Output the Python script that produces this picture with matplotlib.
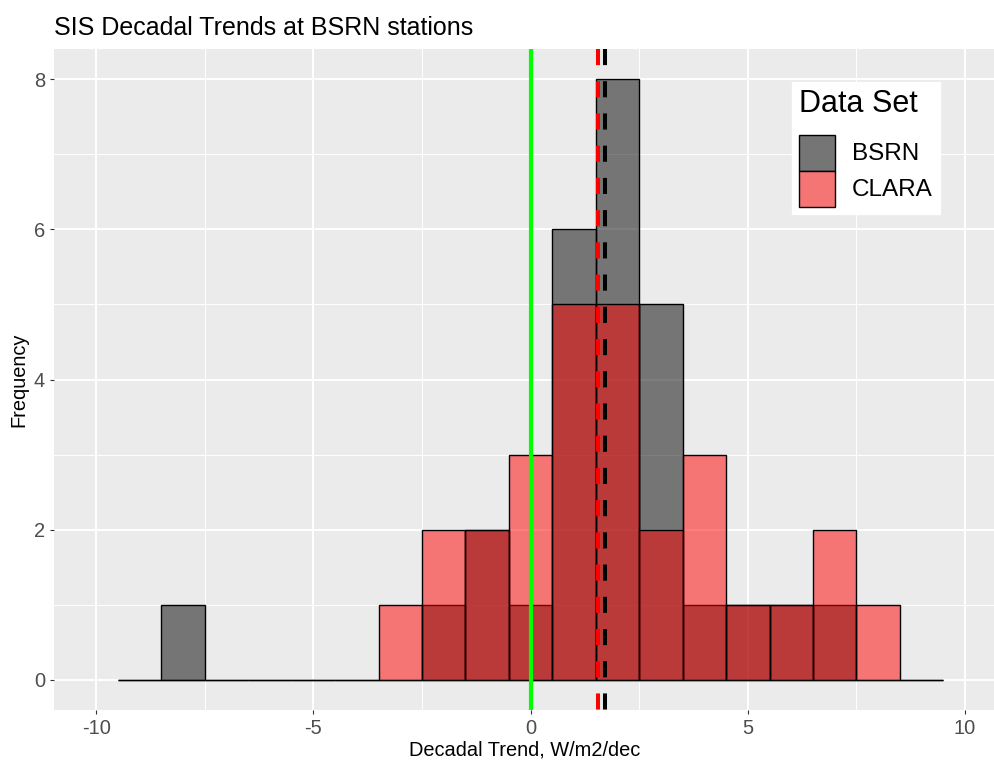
import numpy as np
import matplotlib.pyplot as plt
from matplotlib.patches import Patch

plt.rcParams['font.family'] = ['Liberation Sans', 'DejaVu Sans']
plt.rcParams['axes.unicode_minus'] = False

# histogram bins (width 1, centred on integers)
bin_centers = np.arange(-9, 10)
bsrn_counts = [0, 1, 0, 0, 0, 0, 0, 1, 2, 1, 6, 8, 5, 1, 1, 1, 1, 0, 0]
clara_counts = [0, 0, 0, 0, 0, 0, 1, 2, 2, 3, 5, 5, 2, 3, 1, 1, 2, 1, 0]
bsrn_mean = 1.72
clara_mean = 1.55
zero_line = 0.0

x_lim = (-10.97, 10.69)
y_lim = (-0.4, 8.4)
x_ticks = [-10, -5, 0, 5, 10]
y_ticks = [0, 2, 4, 6, 8]

fig = plt.figure(figsize=(9.95, 7.61), dpi=100)
ax = fig.add_axes([54 / 995, 51 / 761, 1 - 54 / 995, (710 - 49) / 761])
ax.set_facecolor('#EBEBEB')
for s in ax.spines.values():
    s.set_visible(False)

# grid
ax.set_xticks(x_ticks)
ax.set_yticks(y_ticks)
ax.set_xticks([-7.5, -2.5, 2.5, 7.5], minor=True)
ax.set_yticks([1, 3, 5, 7], minor=True)
ax.grid(which='major', color='white', lw=1.4)
ax.grid(which='minor', color='white', lw=0.7)
ax.set_axisbelow(True)
ax.tick_params(which='major', length=3, width=0.8, color='#333333',
               labelcolor='#4D4D4D', labelsize=14.5)
ax.tick_params(which='minor', length=0)

ax.bar(bin_centers, bsrn_counts, width=1, facecolor=(0, 0, 0, 0.5),
       edgecolor='black', lw=1.0, zorder=2)
ax.bar(bin_centers, clara_counts, width=1, facecolor=(1, 0, 0, 0.5),
       edgecolor='black', lw=1.0, zorder=3)

ax.plot([clara_mean, clara_mean], [y_lim[1], y_lim[0]], color='red', lw=2.9,
        ls=(0, (4, 4)), zorder=4)
ax.plot([bsrn_mean, bsrn_mean], [y_lim[1], y_lim[0]], color='black', lw=2.9,
        ls=(0, (4, 4)), zorder=4)
ax.axvline(zero_line, color='#00FF00', lw=3, zorder=5)

ax.set_xlim(*x_lim)
ax.set_ylim(*y_lim)

ax.set_xlabel('Decadal Trend, W/m2/dec', fontsize=14.4, color='black', labelpad=2)
ax.set_ylabel('Frequency', fontsize=14.4, color='black', labelpad=4)
fig.text(54 / 995, 1 - 35 / 761, 'SIS Decadal Trends at BSRN stations',
         fontsize=18, ha='left', va='baseline')

handles = [Patch(facecolor='#757575', edgecolor='black', lw=1.0),
           Patch(facecolor='#F57575', edgecolor='black', lw=1.0)]
leg = fig.legend(handles, ['BSRN', 'CLARA'], title='Data Set',
                 loc='upper left', bbox_to_anchor=(792 / 995, 1 - 82 / 761),
                 fontsize=17.5, title_fontsize=22, frameon=True, fancybox=False,
                 edgecolor='white', facecolor='white', framealpha=1,
                 handlelength=1.45, handleheight=1.9, labelspacing=0.0,
                 handletextpad=0.7, borderpad=0.3, borderaxespad=0,
                 alignment='left')
leg._legend_box.sep = 11

fig.savefig('out.png', dpi=100)
